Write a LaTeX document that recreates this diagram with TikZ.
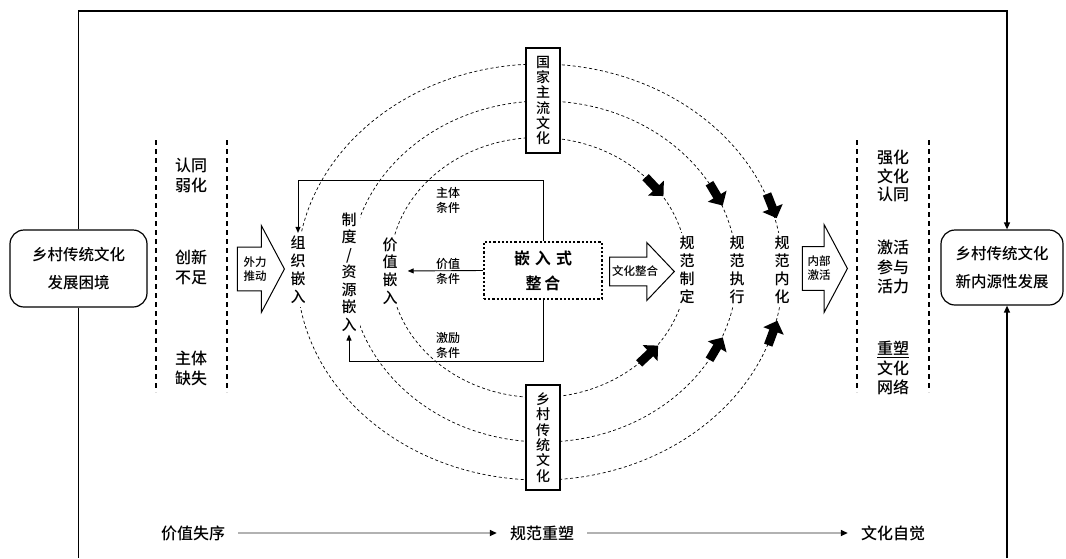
\documentclass[tikz,border=0pt]{standalone}
\usepackage{fontspec}
\setmainfont{Noto Sans CJK SC}[UprightFont={* Medium},BoldFont={* Bold}]
\usetikzlibrary{arrows.meta,shapes.arrows,backgrounds}

\begin{document}
\begin{tikzpicture}[x=1pt,y=-1pt,>={Triangle[length=6pt,width=5pt]},
    lbl/.style={font=\fontsize{16}{20}\selectfont,align=center,inner sep=2pt},
    vtxt/.style={font=\fontsize{15}{18}\selectfont,align=center,fill=white,inner sep=3pt},
    small/.style={font=\fontsize{12}{15}\selectfont,align=center,inner sep=1pt},
    endbox/.style={draw,line width=1.2pt,rounded corners=14pt,align=center,font=\fontsize{15.5}{28}\selectfont},
    culbox/.style={draw,line width=1.2pt,fill=white,align=center,font=\fontsize{14}{15.3}\selectfont,minimum width=34pt,minimum height=105pt,inner sep=0pt},
    blockarrow/.style={draw,line width=1pt,single arrow,fill=white,align=center,font=\fontsize{11.5}{14}\selectfont,inner xsep=2pt,anchor=tip},
    fatarrow/.style={single arrow,fill=black,inner sep=4.2pt,minimum height=26pt,single arrow head extend=6.5pt},
    orbit/.style={dash pattern=on 3pt off 2.5pt,line width=0.7pt},
    sep/.style={dash pattern=on 5pt off 4pt,line width=1.3pt},
    cond/.style={->,line width=0.9pt},
    frame/.style={line width=1.3pt},
    timeline/.style={line width=1.6pt,draw=black!30,shorten <=11pt,shorten >=11pt,-{Triangle[length=7pt,width=6pt,color=black]}}]
    \useasboundingbox (0,0) rectangle (1066,558);

    \node (lbox) [endbox,minimum width=137pt,minimum height=77pt] at (78.5,268.5) {乡村传统文化\\发展困境};
    \node (rbox) [endbox,minimum width=122pt,minimum height=75pt] at (1002,267.5) {乡村传统文化\\新内源性发展};

    \node (d1) [lbl] at (191,175) {认同\\弱化};
    \node (d2) [lbl] at (191,267) {创新\\不足};
    \node (d3) [lbl] at (191,368) {主体\\缺失};
    \node (r1) [lbl,font=\fontsize{16}{18.5}\selectfont] at (893,176) {强化\\文化\\认同};
    \node (r2) [lbl,font=\fontsize{16}{19.5}\selectfont] at (893,267) {激活\\参与\\活力};
    \node (r3) [lbl,font=\fontsize{16}{19.5}\selectfont] at (893,368) {\underline{重塑}\\文化\\网络};

    \node (push) [blockarrow,inner ysep=9pt,single arrow head extend=21.5pt,minimum height=47pt,single arrow tip angle=124] at (285,269) {外力\\推动};
    \node (merge) [blockarrow,inner ysep=8.5pt,single arrow head extend=14.5pt,minimum height=63pt,single arrow tip angle=93] at (675,271.5) {文化整合};
    \node (act) [blockarrow,inner ysep=9pt,single arrow head extend=22pt,minimum height=45pt,single arrow tip angle=124] at (848,268.5) {内部\\激活};

    \node (zuzhi) [vtxt] at (298,270) {组\\织\\嵌\\入};
    \node (zhidu) [vtxt,font=\fontsize{15}{17.5}\selectfont] at (349,272) {制\\度\\/\\资\\源\\嵌\\入};
    \node (jiazhi) [vtxt,font=\fontsize{15}{17.7}\selectfont] at (390,271) {价\\值\\嵌\\入};
    \node (zhiding) [vtxt] at (687,270) {规\\范\\制\\定};
    \node (zhixing) [vtxt] at (737,270) {规\\范\\执\\行};
    \node (neihua) [vtxt] at (782,270) {规\\范\\内\\化};

    \node (guojia) [culbox] at (543,100.5) {国\\家\\主\\流\\文\\化};
    \node (xiangcun) [culbox] at (543,437.5) {乡\\村\\传\\统\\文\\化};

    \node (emb) [draw,dotted,line width=2.2pt,minimum width=118pt,minimum height=57pt,align=center,
        font=\bfseries\fontsize{16}{25}\selectfont] at (543,270.5) {嵌\hspace{5pt}入\hspace{5pt}式\\整\hspace{3pt}合};

    \begin{scope}[on background layer]
        \draw[orbit] (538.5,267.5) ellipse [x radius=148.5pt,y radius=130pt];
        \draw[orbit] (543.5,271.5) ellipse [x radius=193.5pt,y radius=170.5pt];
        \draw[orbit] (540,272) ellipse [x radius=243pt,y radius=208pt];
    \end{scope}

    \node (fa1) [fatarrow,rotate=-46.6] at (653,185) {};
    \node (fa2) [fatarrow,rotate=43.1] at (647,356) {};
    \node (fa3) [fatarrow,rotate=-59.3] at (715,192.5) {};
    \node (fa4) [fatarrow,rotate=59.3] at (715,350.5) {};
    \node (fa5) [fatarrow,rotate=-68.3] at (771,204) {};
    \node (fa6) [fatarrow,rotate=69.6] at (772,335) {};

    \draw[cond] (emb.north) -- ++(0,-60) -| (zuzhi.north);
    \draw[cond,shorten >=7pt] (emb.west) -- (jiazhi.east);
    \draw[cond] (emb.south) -- ++(0,61) -| (zhidu.south);
    \node (c1) [small] at (448,200.5) {主体\\条件};
    \node (c2) [small] at (448,271) {价值\\条件};
    \node (c3) [small] at (448,345) {激励\\条件};

    \draw[sep] (156,140) -- (156,392);
    \draw[sep] (227,140) -- (227,392);
    \draw[sep] (857,140) -- (857,392);
    \draw[sep] (929,140) -- (929,392);

    \coordinate (tr) at (1007,11);
    \coordinate (br) at (1007,558);
    \draw[frame,-{Triangle[length=7pt,width=6pt]}] (lbox.north) |- (tr) -- (tr |- rbox.north);
    \draw[frame] (lbox.south) -- (lbox.south |- br);
    \draw[frame,-{Triangle[length=7pt,width=6pt]}] (br) -- (br |- rbox.south);

    \node (t1) [lbl] at (193,533) {价值失序};
    \node (t2) [lbl] at (542,533) {规范重塑};
    \node (t3) [lbl] at (893,533) {文化自觉};
    \draw[timeline] (t1) -- (t2);
    \draw[timeline] (t2) -- (t3);
\end{tikzpicture}
\end{document}
